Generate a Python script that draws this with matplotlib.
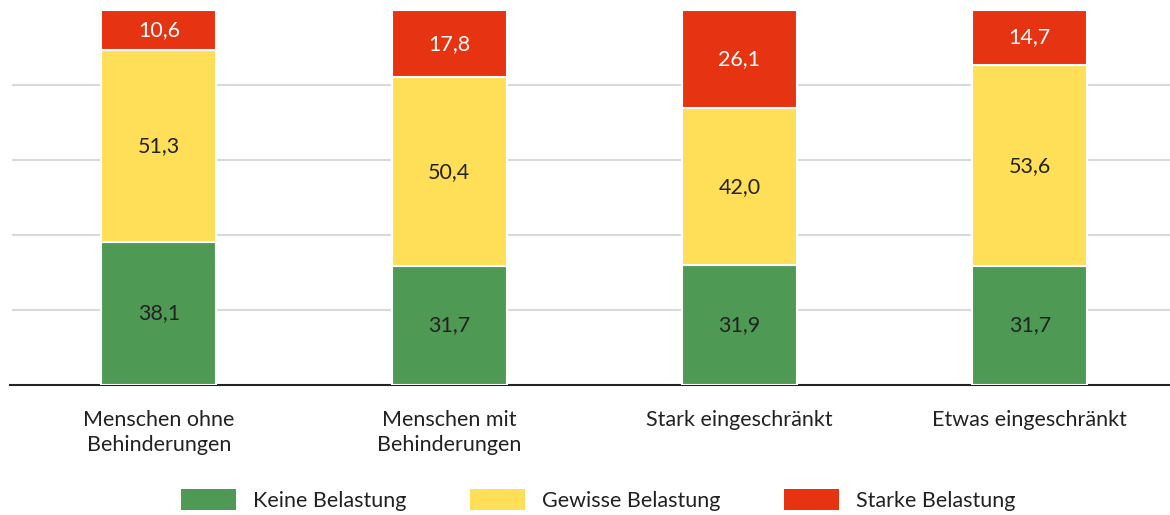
import matplotlib
matplotlib.use("Agg")
import matplotlib.pyplot as plt
from matplotlib.patches import Patch

categories = ["Menschen ohne\nBehinderungen", "Menschen mit\nBehinderungen",
              "Stark eingeschränkt", "Etwas eingeschränkt"]
keine = [38.1, 31.7, 31.9, 31.7]
gewisse = [51.3, 50.4, 42.0, 53.6]
starke = [10.6, 17.8, 26.1, 14.7]
series_names = ["Keine Belastung", "Gewisse Belastung", "Starke Belastung"]
colors = ["#4E9A55", "#FFDF57", "#E63312"]
text_colors = ["#222222", "#222222", "white"]

plt.rcParams['font.family'] = ['Lato', 'DejaVu Sans']

fig = plt.figure(figsize=(11.7, 5.15), dpi=100)
ax = fig.add_axes([10/1170, 1-385/515, 1-10/1170, 375/515])

x = list(range(len(categories)))
bottom = [0]*len(categories)
for vals, c, tc in zip([keine, gewisse, starke], colors, text_colors):
    ax.bar(x, vals, width=0.396, bottom=bottom, color=c,
           edgecolor="white", linewidth=1.5, zorder=3)
    for xi, b, v in zip(x, bottom, vals):
        ax.text(xi, b + v/2, f"{v:.1f}".replace(".", ","), ha="center", va="center",
                fontsize=15.5, color=tc, zorder=4)
    bottom = [b + v for b, v in zip(bottom, vals)]

ax.set_xlim(-0.513, 3.483)
ax.set_ylim(0, 100)
for g in [20, 40, 60, 80]:
    ax.axhline(g, xmin=3/1160, xmax=1, color="#D9D9D9", linewidth=1.5, zorder=1)
for s in ["top", "right", "left"]:
    ax.spines[s].set_visible(False)
ax.spines["bottom"].set_color("#222222")
ax.spines["bottom"].set_linewidth(1.5)
ax.set_yticks([])
ax.set_xticks(x)
ax.set_xticklabels(categories, fontsize=15.5, color="#222222", linespacing=1.3)
ax.tick_params(axis="x", length=0, pad=18)

handles = [Patch(facecolor=c, edgecolor="none") for c in colors]
fig.legend(handles, series_names, loc="center", bbox_to_anchor=(0.511, 0.029),
           ncol=3, frameon=False, fontsize=15.5, handlelength=2.55, handleheight=1.1,
           columnspacing=2.95, handletextpad=0.8, labelcolor="#222222",
           borderaxespad=0, borderpad=0)

fig.savefig("out.png", dpi=100)
